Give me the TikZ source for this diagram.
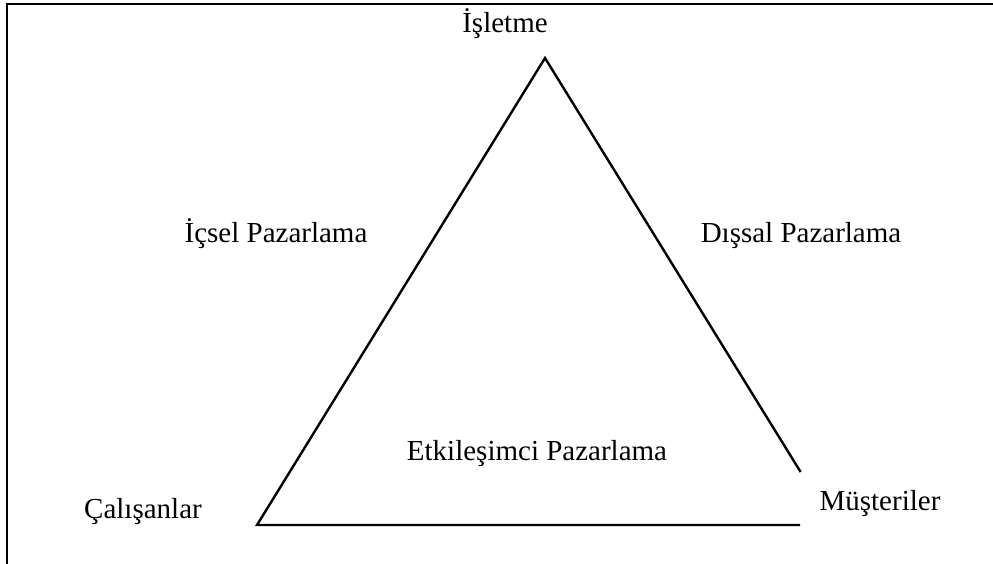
\documentclass[tikz,border=0pt]{standalone}
\usepackage{fontspec}
\setmainfont{Liberation Serif}
\begin{document}
\begin{tikzpicture}[x=1pt,y=-1pt,
  lbl/.style={anchor=base,inner sep=0pt,font=\fontsize{29}{34}\selectfont},
  edge/.style={line width=2.4pt,line cap=rect},
  frame/.style={line width=2.8pt}]
\useasboundingbox (0,0) rectangle (993,564);
% partial frame
\draw[frame] (7,564) -- (7,4) -- (993,4);
% triangle
\coordinate (apex) at (545,58);
\coordinate (bl) at (257,525);
\coordinate (br) at (799,525);
\coordinate (rend) at (800,471);
\draw[edge] (rend) -- (apex) -- (bl) -- (br);
% labels
\node[lbl] (isletme) at (505,33) {İşletme};
\node[lbl] (icsel) at (276,242) {İçsel Pazarlama};
\node[lbl] (dissal) at (801,242) {Dışsal Pazarlama};
\node[lbl] (etk) at (537,460) {Etkileşimci Pazarlama};
\node[lbl] (cal) at (143,518) {Çalışanlar};
\node[lbl] (mus) at (880,510) {Müşteriler};
\end{tikzpicture}
\end{document}
